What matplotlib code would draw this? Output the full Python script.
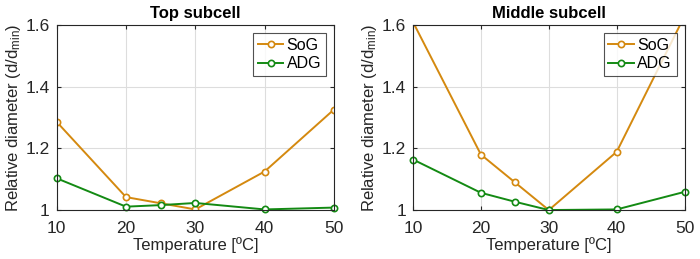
import matplotlib
matplotlib.use('Agg')
import matplotlib.pyplot as plt
from matplotlib import ticker

plt.rcParams['font.family'] = ['Liberation Sans', 'DejaVu Sans']
plt.rcParams['mathtext.fontset'] = 'custom'
plt.rcParams['mathtext.rm'] = 'Liberation Sans'
plt.rcParams['mathtext.it'] = 'Liberation Sans'

# temperatures [ºC]
temps = [10, 20, 25, 30, 40, 50]

# top subcell
top_sog = [1.286, 1.042, 1.022, 1.002, 1.125, 1.326]
top_adg = [1.103, 1.011, 1.016, 1.023, 1.002, 1.008]

# middle subcell
mid_sog = [1.61, 1.180, 1.090, 1.000, 1.189, 1.63]
mid_adg = [1.164, 1.056, 1.027, 1.000, 1.002, 1.059]

titles = ['Top subcell', 'Middle subcell']
yticks = [1, 1.2, 1.4, 1.6]
xticks = [10, 20, 30, 40, 50]

c_sog = '#D4890F'
c_adg = '#138A13'
gridc = '#DDDDDD'
txtc = '#262626'


def style_axis(ax, title):
    ax.set_xlim(10, 50)
    ax.set_ylim(1, 1.6)
    ax.set_xticks(xticks)
    ax.set_yticks(yticks)
    ax.yaxis.set_major_formatter(ticker.FuncFormatter(lambda v, p: '%g' % v))
    ax.grid(True, color=gridc, linewidth=0.8)
    ax.set_axisbelow(True)
    ax.tick_params(direction='in', length=3, width=0.8, labelsize=12.5,
                   top=True, right=True, colors=txtc)
    ax.tick_params(axis='x', pad=8)
    ax.tick_params(axis='y', pad=5)
    for s in ax.spines.values():
        s.set_color(txtc)
        s.set_linewidth(0.8)
    ax.set_title(title, fontsize=12, fontweight='bold', pad=5)
    ax.set_xlabel('Temperature [ºC]', fontsize=12, color=txtc, labelpad=1)
    ax.set_ylabel(r'Relative diameter (d/d$_{\mathrm{min}}$)', fontsize=12,
                  color=txtc, labelpad=2)


fig = plt.figure(figsize=(7.0, 2.59), dpi=100)
ax0 = fig.add_axes([0.081, 0.189, 0.396, 0.714])
ax1 = fig.add_axes([0.590, 0.189, 0.388, 0.714])

for ax, sog, adg, title in [(ax0, top_sog, top_adg, titles[0]),
                            (ax1, mid_sog, mid_adg, titles[1])]:
    ax.plot(temps, sog, '-o', color=c_sog, lw=1.4, ms=4.5, mfc='white',
            mew=1.2, label='SoG', clip_on=True)
    ax.plot(temps, adg, '-o', color=c_adg, lw=1.4, ms=4.5, mfc='white',
            mew=1.2, label='ADG', clip_on=False)
    style_axis(ax, title)
    leg = ax.legend(loc='upper right', fontsize=11.5, frameon=True, fancybox=False,
                    handlelength=1.6, handletextpad=0.2, borderpad=0.3,
                    labelspacing=0.2, borderaxespad=0.5)
    leg.get_frame().set_edgecolor(txtc)
    leg.get_frame().set_linewidth(0.8)

fig.savefig('out.png', dpi=100)
